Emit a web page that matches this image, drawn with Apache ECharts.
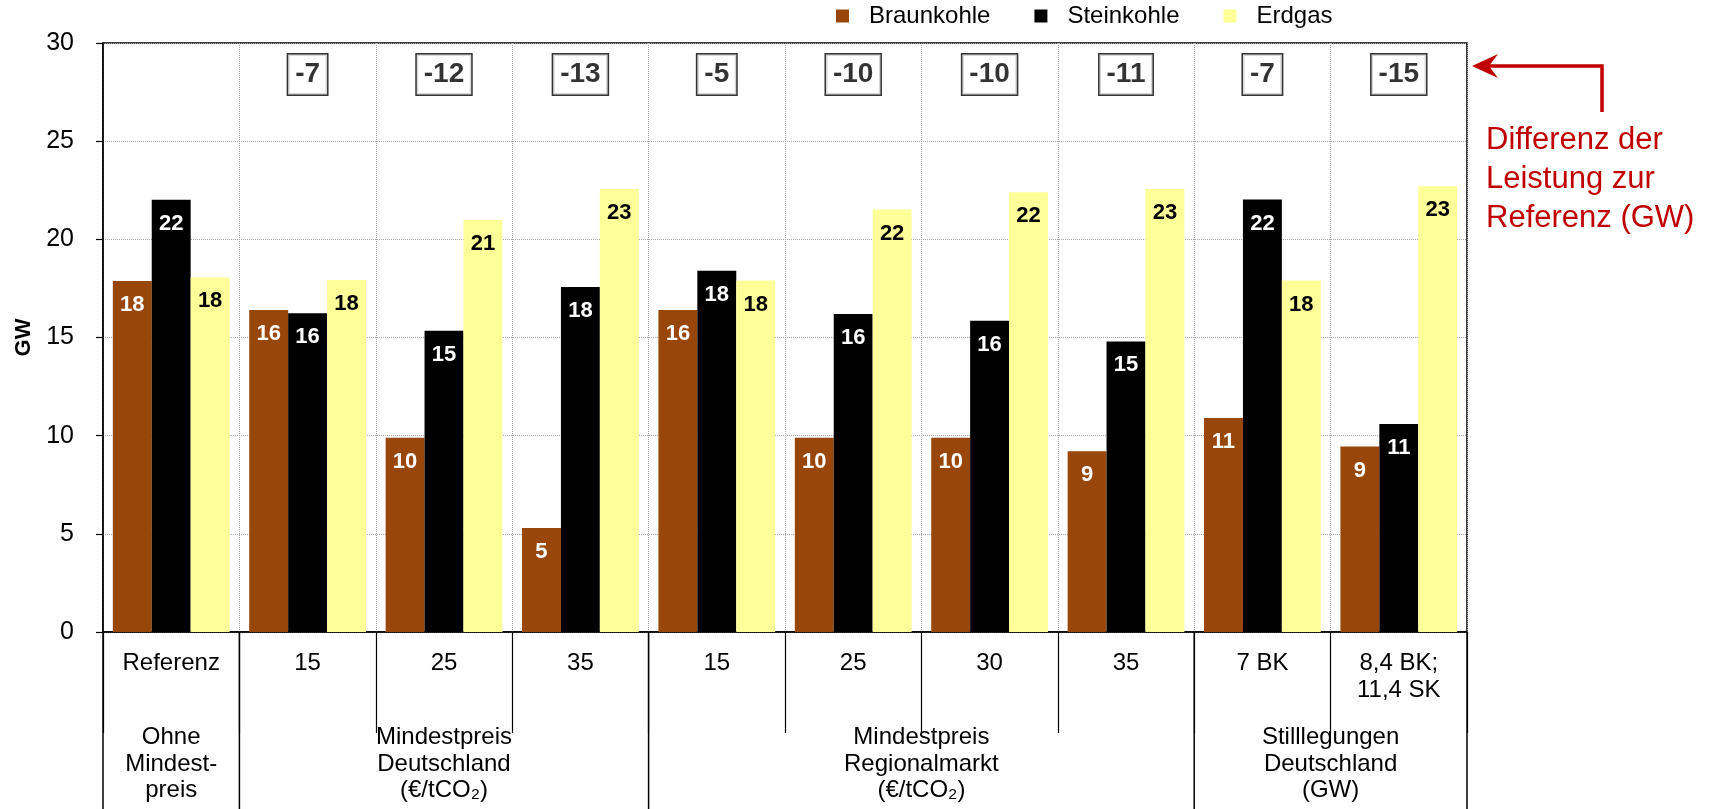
<!DOCTYPE html>
<html>
<head>
<meta charset="utf-8">
<script src="https://cdn.jsdelivr.net/npm/echarts@6/dist/echarts.min.js"></script>
<style>
  html, body { margin: 0; padding: 0; background: #fff; }
  #chart { width: 1711px; height: 809px; }
</style>
</head>
<body>
<div id="chart"></div>
<script>
// Szenarien (untere Achsenbeschriftung, erste Ebene)
const scenarios = ['Referenz', '15', '25', '35', '15', '25', '30', '35', '7 BK', '8,4 BK;\n11,4 SK'];
// Installierte Leistung in GW je Energieträger
const braunkohle = [17.88, 16.4, 9.9, 5.3, 16.4, 9.9, 9.9, 9.2, 10.9, 9.45];
const steinkohle = [22.02, 16.23, 15.35, 17.57, 18.4, 16.2, 15.85, 14.8, 22.03, 10.6];
const erdgas = [18.06, 17.93, 20.98, 22.56, 17.9, 21.52, 22.4, 22.56, 17.9, 22.71];
// Differenz der Leistung zur Referenz (GW)
const differenz = [null, -7, -12, -13, -5, -10, -10, -11, -7, -15];
// Szenariogruppen (zweite Ebene), als Bereiche von Kategorienindizes
const gruppen = [
  { name: 'Ohne\nMindest-\npreis', from: 0, to: 1 },
  { name: 'Mindestpreis\nDeutschland\n(€/tCO₂)', from: 1, to: 4 },
  { name: 'Mindestpreis\nRegionalmarkt\n(€/tCO₂)', from: 4, to: 8 },
  { name: 'Stilllegungen\nDeutschland\n(GW)', from: 8, to: 10 }
];
const yMin = 0, yMax = 30, yStep = 5;

const FONT = '"Liberation Sans", Arial, sans-serif';
const RED = '#C00000';
const DIFF_Y = 28.4; // Höhe der Differenz-Kästchen in Achseneinheiten

const chart = echarts.init(document.getElementById('chart'), null, { renderer: 'canvas' });

function barSeries(name, data, color, labelColor) {
  return {
    name: name,
    type: 'bar',
    data: data,
    barGap: '0%',
    barCategoryGap: '14.4%',
    itemStyle: { color: color },
    label: {
      show: true,
      position: 'insideTop',
      distance: 13,
      fontFamily: FONT,
      fontSize: 22,
      fontWeight: 'bold',
      color: labelColor,
      formatter: p => String(Math.round(p.value))
    }
  };
}

const option = {
  animation: false,
  backgroundColor: '#fff',
  textStyle: { fontFamily: FONT, color: '#000' },
  legend: {
    data: ['Braunkohle', 'Steinkohle', 'Erdgas'],
    top: 4,
    left: 836,
    padding: 0,
    icon: 'rect',
    itemWidth: 13,
    itemHeight: 13,
    itemGap: 44,
    textStyle: { fontFamily: FONT, fontSize: 24, color: '#000', padding: [0, 0, 0, 15] }
  },
  grid: {
    left: 103, right: 244, top: 43, bottom: 177,
    show: true, borderColor: '#000', borderWidth: 1.5, backgroundColor: 'transparent'
  },
  xAxis: {
    type: 'category',
    data: scenarios,
    axisLine: { show: true, lineStyle: { color: '#000', width: 1.5 } },
    axisTick: { show: true, interval: 0, length: 101, lineStyle: { color: '#000', width: 1.2 } },
    axisLabel: {
      interval: 0, margin: 18, fontFamily: FONT, fontSize: 24, lineHeight: 27, color: '#000'
    },
    splitLine: { show: true, interval: 0, lineStyle: { color: '#a6a6a6', type: 'dotted', width: 1 } }
  },
  yAxis: {
    type: 'value',
    min: yMin, max: yMax, interval: yStep,
    name: 'GW',
    nameLocation: 'middle',
    nameGap: 66,
    nameRotate: 90,
    nameTextStyle: { fontFamily: FONT, fontSize: 22, fontWeight: 'bold', color: '#000' },
    axisLine: { show: true, lineStyle: { color: '#000', width: 1.5 } },
    axisTick: { show: true, inside: false, length: 7, lineStyle: { color: '#000', width: 1.2 } },
    axisLabel: { margin: 29, fontFamily: FONT, fontSize: 25, color: '#000' },
    splitLine: { show: true, lineStyle: { color: '#a6a6a6', type: 'dotted', width: 1 } }
  },
  series: [
    barSeries('Braunkohle', braunkohle, '#99460A', '#fff'),
    barSeries('Steinkohle', steinkohle, '#000000', '#fff'),
    barSeries('Erdgas', erdgas, '#FFFF99', '#000'),
    {
      name: 'Differenz',
      type: 'scatter',
      symbolSize: 0,
      z: 5,
      data: differenz.map((d, i) => d == null ? null : { value: [i, DIFF_Y], diff: d }).filter(Boolean),
      label: {
        show: true,
        position: 'inside',
        formatter: p => String(p.data.diff),
        fontFamily: FONT,
        fontSize: 28,
        fontWeight: 'bold',
        color: '#000',
        backgroundColor: '#fff',
        borderColor: '#000',
        borderWidth: 1.5,
        padding: [6, 7, 6, 7]
      }
    }
  ]
};

chart.setOption(option);

// Zweite Achsenebene (Gruppen) und Hinweis rechts
const center = i => chart.convertToPixel({ xAxisIndex: 0 }, i);
const catW = center(1) - center(0);
const edge = k => center(0) - catW / 2 + k * catW;
const y0 = chart.convertToPixel({ yAxisIndex: 0 }, 0);
const H = chart.getHeight();

const graphics = [];
const bounds = new Set();
gruppen.forEach(g => { bounds.add(g.from); bounds.add(g.to); });
bounds.forEach(k => {
  graphics.push({
    type: 'line',
    shape: { x1: edge(k), y1: y0, x2: edge(k), y2: H },
    style: { stroke: '#000', lineWidth: 1.5 },
    silent: true
  });
});
gruppen.forEach(g => {
  graphics.push({
    type: 'text',
    x: (edge(g.from) + edge(g.to)) / 2,
    y: 764,
    style: {
      text: g.name,
      fontFamily: FONT,
      fontSize: 24,
      lineHeight: 26.5,
      fill: '#000',
      textAlign: 'center',
      textVerticalAlign: 'middle'
    },
    silent: true
  });
});

// Pfeil zur Differenzzeile
const xr = edge(10);
const ay = 66, ax = 1602;
graphics.push({
  type: 'polyline',
  shape: { points: [[ax, 112], [ax, ay], [xr + 22, ay]] },
  style: { stroke: RED, lineWidth: 3.5, fill: null },
  silent: true
});
graphics.push({
  type: 'polygon',
  shape: { points: [[xr + 5, ay], [xr + 31, ay - 12], [xr + 22, ay], [xr + 31, ay + 12]] },
  style: { fill: RED },
  silent: true
});
graphics.push({
  type: 'text',
  x: 1486,
  y: 121,
  style: {
    text: 'Differenz der\nLeistung zur\nReferenz (GW)',
    fontFamily: FONT,
    fontSize: 31,
    lineHeight: 39,
    fill: RED,
    textAlign: 'left',
    textVerticalAlign: 'top'
  },
  silent: true
});

chart.setOption({ graphic: graphics });
</script>
</body>
</html>
